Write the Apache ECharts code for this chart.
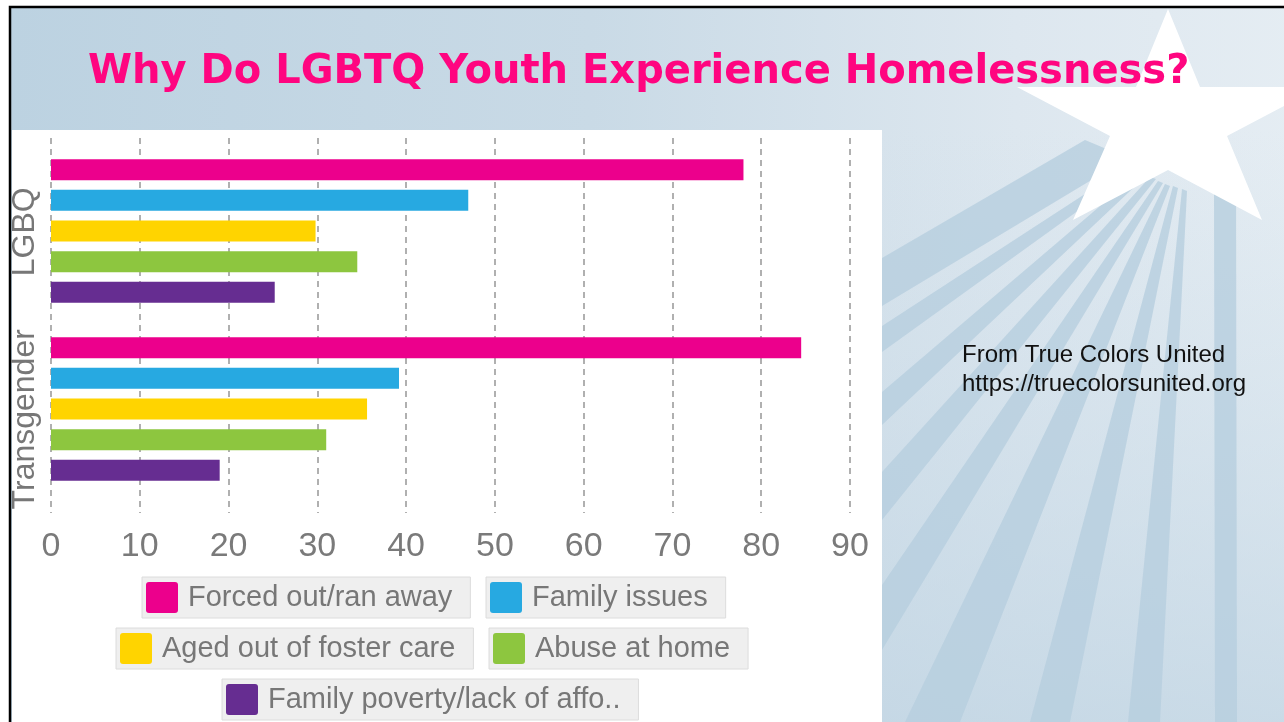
<!DOCTYPE html>
<html><head><meta charset="utf-8">
<script src="https://cdn.jsdelivr.net/npm/echarts@6/dist/echarts.min.js"></script>
<style>html,body{margin:0;padding:0;background:#fff;overflow:hidden}#c{width:1284px;height:722px}</style>
</head><body><div id="c"></div>
<script>
// ---- data ----
const categories = ['LGBQ', 'Transgender'];
const seriesNames = ['Forced out/ran away', 'Family issues', 'Aged out of foster care', 'Abuse at home', 'Family poverty/lack of affo..'];
const forcedOut = [78, 84.5];
const familyIssues = [47, 39.2];
const agedOut = [29.8, 35.6];
const abuseAtHome = [34.5, 31];
const familyPoverty = [25.2, 19];
const xMin = 0, xMax = 90, xStep = 10;
const titleText = 'Why Do LGBTQ Youth Experience Homelessness?';
const sourceLines = ['From True Colors United', 'https://truecolorsunited.org'];

const seriesData = [forcedOut, familyIssues, agedOut, abuseAtHome, familyPoverty];
const colors = ['#ec008c', '#27a9e1', '#ffd400', '#8dc63f', '#662d91'];

const chart = echarts.init(document.getElementById('c'), null, {renderer: 'canvas'});

// decorative rays & star
const rays = [
  [[1085,140],[1128,158],[882,306],[882,258]],
  [[1128,166],[1136,169],[882,352],[882,326]],
  [[1140,172],[1147,175],[882,425],[882,392]],
  [[1150,177],[1156,179],[882,520],[882,472]],
  [[1158,181],[1163,183],[882,650],[882,585]],
  [[1165,184],[1170,186],[960,722],[905,722]],
  [[1173,186],[1178,188],[1070,722],[1030,722]],
  [[1182,189],[1187,191],[1160,722],[1128,722]],
  [[1214,190],[1236,190],[1237,722],[1215,722]]
];
const star = [[1168,9],[1200,87],[1320,87],[1227,136],[1262,220],[1168,170],[1073,220],[1110,136],[1017,87],[1136,87]];

const graphics = [
  {type:'rect', z:-30, shape:{x:10,y:7,width:1290,height:730},
   style:{fill:{type:'linear',x:0,y:0,x2:1,y2:0,colorStops:[
     {offset:0,color:'#bcd2e1'},{offset:0.45,color:'#c9dae6'},{offset:0.78,color:'#dde7ef'},{offset:1,color:'#e5edf3'}]},
     stroke:'#000',lineWidth:2.5}},
  {type:'rect', z:-29, shape:{x:882,y:130,width:402,height:592},
   style:{fill:{type:'linear',x:0,y:0,x2:0,y2:1,colorStops:[
     {offset:0,color:'rgba(200,218,231,0)'},{offset:1,color:'rgba(190,211,226,0.7)'}]}}}
];
rays.forEach(p => graphics.push({type:'polygon', z:-28, shape:{points:p}, style:{fill:'rgba(182,206,223,0.8)'}}));
graphics.push({type:'polygon', z:-27, shape:{points:star}, style:{fill:'#ffffff'}});
graphics.push({type:'rect', z:-26, shape:{x:12,y:130,width:870,height:600}, style:{fill:'#ffffff'}});
graphics.push({type:'text', z:5, left:962, top:341,
  style:{text:sourceLines.join('\n'), fill:'#111', font:'24px "Liberation Sans", Arial, sans-serif', lineHeight:29}});

const iconPath = 'path://M3,0 L29,0 Q32,0 32,3 L32,28 Q32,31 29,31 L3,31 Q0,31 0,28 L0,3 Q0,0 3,0 Z';
const legendPos = [[142,577],[486,577],[116,628],[489,628],[222,679]];
const legends = seriesNames.map((n,i) => ({
  data:[n], left:legendPos[i][0], top:legendPos[i][1], orient:'horizontal',
  icon:iconPath, itemWidth:32, itemHeight:31, padding:[5,18,5,4],
  backgroundColor:'#efefef', borderColor:'#dcdcdc', borderWidth:1, borderRadius:0,
  selectedMode:false,
  textStyle:{fontSize:29, color:'#777', fontFamily:'"Liberation Sans", Arial, sans-serif', padding:[0,0,0,5], lineHeight:31}
}));

const option = {
  animation:false,
  color: colors,
  title:{text:titleText, left:83, top:47, z:10,
    textStyle:{fontSize:40, fontWeight:'bold', color:'#ff0580', fontFamily:'"DejaVu Sans", sans-serif', lineHeight:42}},
  graphic: graphics,
  legend: legends,
  grid:[
    {left:51, right:434, top:138, bottom:209, containLabel:false},
    {left:51, right:434, top:142, bottom:224, containLabel:false}
  ],
  xAxis:[
    {type:'value', gridIndex:0, min:xMin, max:xMax, interval:xStep,
     axisLine:{show:false}, axisTick:{show:false},
     axisLabel:{fontSize:34, color:'#7a7a7a', margin:17, fontFamily:'"Liberation Sans", Arial, sans-serif'},
     splitLine:{show:true, lineStyle:{color:'#b0b0b0', width:2, type:[6,5]}}},
    {type:'value', gridIndex:1, min:xMin, max:xMax, interval:xStep, show:false, splitLine:{show:false}}
  ],
  yAxis:[
    {type:'category', gridIndex:0, data:categories, inverse:true,
     axisLine:{show:false}, axisTick:{show:false}, splitLine:{show:false},
     axisLabel:{interval:0, hideOverlap:false, rotate:90, fontSize:32, color:'#777', margin:10, fontFamily:'"Liberation Sans", Arial, sans-serif'}},
    {type:'category', gridIndex:1, data:categories, inverse:true, show:false}
  ],
  series: seriesNames.map((n,i) => ({
    name:n, type:'bar', xAxisIndex:1, yAxisIndex:1, data:seriesData[i],
    barWidth:21, barGap:'46%', itemStyle:{color:colors[i]}
  }))
};
chart.setOption(option);
</script></body></html>
